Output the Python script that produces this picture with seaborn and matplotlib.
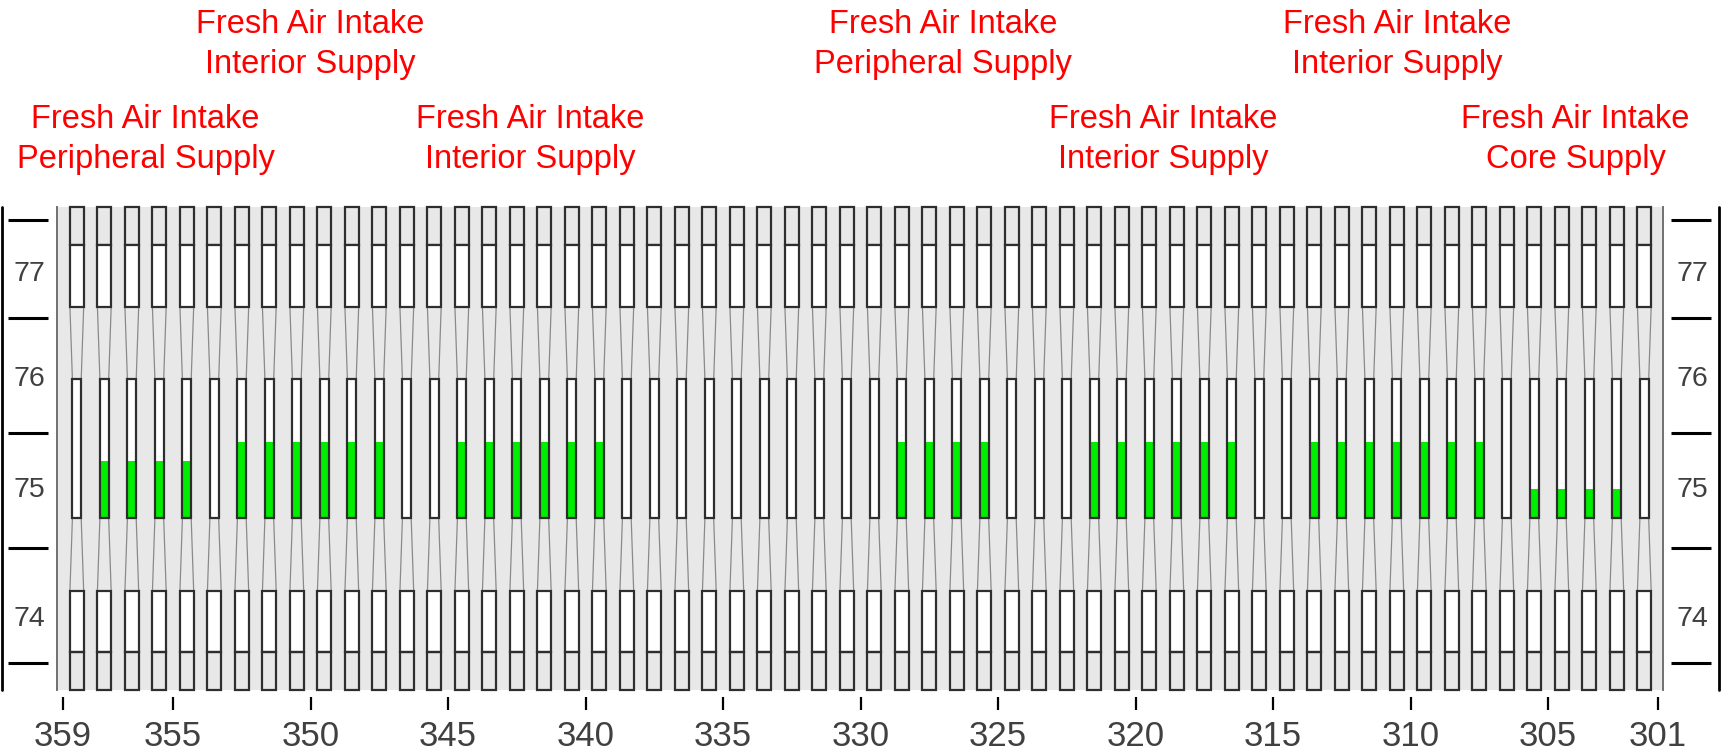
import numpy as np
import pandas as pd
import matplotlib
matplotlib.use("Agg")
import matplotlib.pyplot as plt
from matplotlib.transforms import blended_transform_factory
import seaborn as sns

# one slot per bay, centred between the grid lines (359 .. 301)
columns = np.arange(358.5, 301.0, -1.0)

# fresh air intake groups (first / last bay centre, fill level, label, label row)
group_start = [357.5, 352.5, 344.5, 328.5, 321.5, 313.5, 305.5]
group_end = [354.5, 347.5, 339.5, 325.5, 316.5, 307.5, 302.5]
group_level = [75.25, 75.42, 75.42, 75.42, 75.42, 75.42, 75.01]
group_label = [
    "Fresh Air Intake\nPeripheral Supply",
    "Fresh Air Intake\nInterior Supply",
    "Fresh Air Intake\nInterior Supply",
    "Fresh Air Intake\nPeripheral Supply",
    "Fresh Air Intake\nInterior Supply",
    "Fresh Air Intake\nInterior Supply",
    "Fresh Air Intake\nCore Supply",
]
group_row = [0, 1, 0, 1, 0, 1, 0]  # 0 = lower row, 1 = upper row

x_ticks = [359, 355, 350, 345, 340, 335, 330, 325, 320, 315, 310, 305, 301]
floor_names = ["74", "75", "76", "77"]
floor_name_pos = [73.88, 75.0, 75.97, 76.88]
floor_marks = [73.5, 74.5, 75.5, 76.5, 77.35]

# section outline levels
y_bottom, y_top = 73.265, 77.46
lo_box_top = 73.597
lo_white_top = 74.124
narrow_bottom = 74.755
narrow_top = 75.964
up_white_bottom = 76.592
up_white_top = 77.128
outer_w = 0.5
narrow_w = 0.32

edge = "#2e2e2e"
green = "#00ee00"
grey_bg = "#e8e8e8"
txt_grey = "#404040"

sns.set_theme(style="white")
plt.rcParams["font.family"] = ["Liberation Sans", "DejaVu Sans"]

fig = plt.figure(figsize=(17.26, 7.55), dpi=100)
ax = fig.add_axes([57 / 1726, 1 - 690 / 755, (1663 - 57) / 1726, (690 - 207) / 755])
ax.set_facecolor(grey_bg)

box = dict(edgecolor=edge, linewidth=1.6)
# top and bottom stubs (open), wide white boxes, narrow white box
ax.bar(columns, y_top - up_white_top, bottom=up_white_top, width=outer_w,
       facecolor="none", clip_on=False, zorder=3, **box)
ax.bar(columns, up_white_top - up_white_bottom, bottom=up_white_bottom, width=outer_w,
       facecolor="white", zorder=3, **box)
ax.bar(columns, lo_white_top - lo_box_top, bottom=lo_box_top, width=outer_w,
       facecolor="white", zorder=3, **box)
ax.bar(columns, lo_box_top - y_bottom, bottom=y_bottom, width=outer_w,
       facecolor="none", clip_on=False, zorder=3, **box)
ax.bar(columns, narrow_top - narrow_bottom, bottom=narrow_bottom, width=narrow_w,
       facecolor="white", edgecolor="none", zorder=1)

# green fill in the narrow boxes
rows = []
for s, e, lvl in zip(group_start, group_end, group_level):
    for c in columns[(columns <= s) & (columns >= e)]:
        rows.append({"bay": c, "fill": lvl - narrow_bottom})
green_df = pd.DataFrame(rows)
sns.barplot(data=green_df, x="bay", y="fill", native_scale=True, ax=ax,
            bottom=narrow_bottom, width=narrow_w, color=green, saturation=1,
            linewidth=0, errorbar=None, zorder=2)

ax.bar(columns, narrow_top - narrow_bottom, bottom=narrow_bottom, width=narrow_w,
       facecolor="none", zorder=3, **box)

# tapered transitions between wide and narrow boxes
xs, ys = [], []
for c in columns:
    for side in (-1, 1):
        xs += [c + side * outer_w / 2, c + side * narrow_w / 2, np.nan,
               c + side * narrow_w / 2, c + side * outer_w / 2, np.nan]
        ys += [up_white_bottom, narrow_top, np.nan,
               narrow_bottom, lo_white_top, np.nan]
ax.plot(xs, ys, color="#8a8a8a", linewidth=0.9, zorder=2)

ax.set_xlim(359.22, 300.82)
ax.set_ylim(y_bottom, y_top)
ax.set_xlabel("")
ax.set_ylabel("")
ax.set_yticks([])
ax.set_xticks(x_ticks)
ax.set_xticklabels([str(t) for t in x_ticks])
ax.tick_params(axis="x", bottom=True, length=9.4, width=1.6, color="black",
               labelsize=25, labelcolor=txt_grey, pad=7)
for s in ("top", "bottom"):
    ax.spines[s].set_color("none")
ax.spines["bottom"].set_position(("outward", 5))
for s in ("left", "right"):
    ax.spines[s].set_color("#707070")
    ax.spines[s].set_linewidth(1.4)

# floor scale on both sides
fy = blended_transform_factory(fig.transFigure, ax.transData)
fa = blended_transform_factory(fig.transFigure, ax.transAxes)
for x0, x1, xl in ((8, 48, 29), (1671, 1711, 1692)):
    xe = x0 - 6 if x0 < 100 else x1 + 8
    ax.plot([xe / 1726, xe / 1726], [0, 1], transform=fa, color="black",
            linewidth=2, clip_on=False)
    for m in floor_marks:
        ax.plot([x0 / 1726, x1 / 1726], [m, m], transform=fy, color="black",
                linewidth=2.2, clip_on=False, solid_capstyle="butt")
    for name, pos in zip(floor_names, floor_name_pos):
        ax.text(xl / 1726, pos, name, transform=fy, ha="center", va="center",
                fontsize=20.5, color=txt_grey)

# annotations above the groups (va=baseline pins the last line's baseline)
tx = blended_transform_factory(ax.transData, fig.transFigure)
row_y = {0: 1 - 168 / 755, 1: 1 - 73 / 755}
for s, e, lab, r in zip(group_start, group_end, group_label, group_row):
    ax.text((s + e) / 2, row_y[r], lab, transform=tx, ha="center", va="baseline",
            fontsize=23.5, color="#ff0000", linespacing=1.38, multialignment="center")

fig.savefig("out.png", dpi=100)
